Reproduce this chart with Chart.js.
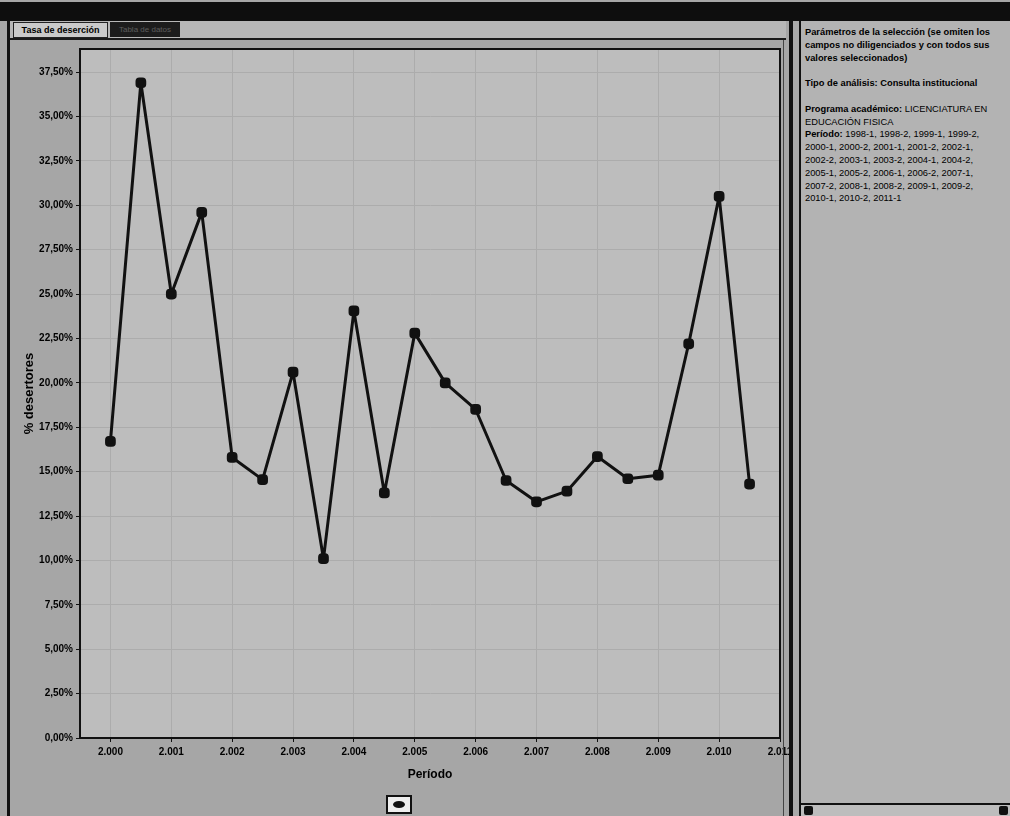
<!DOCTYPE html>
<html lang="es">
<head>
<meta charset="utf-8">
<title>Tasa de deserción</title>
<script src="https://cdn.jsdelivr.net/npm/chart.js@4.4.1/dist/chart.umd.min.js"></script>
<style>
  html, body { margin: 0; padding: 0; }
  body {
    width: 1010px; height: 816px; position: relative; overflow: hidden;
    background: #a6a6a6; font-family: 'Liberation Sans', Arial, sans-serif; color: #000;
  }
  .topbar { position: absolute; left: 0; top: 2px; width: 1010px; height: 19px; background: #0e0e0e; }
  .tabrow { position: absolute; left: 10px; top: 21px; width: 776px; height: 17px; background: #b7b7b7; border-bottom: 2px solid #1a1a1a; }
  .tab1 {
    position: absolute; left: 3px; top: 1px; width: 93px; height: 14px; background: #cacaca;
    border: 1px solid #222; font-size: 9px; font-weight: bold; line-height: 14px; text-align: center;
  }
  .tab2 {
    position: absolute; left: 100px; top: 1px; width: 70px; height: 15px; background: #1c1c1c;
    font-size: 8px; line-height: 15px; color: #5c5c5c; text-align: center;
  }
  .leftline { position: absolute; left: 7px; top: 21px; width: 3px; height: 795px; background: #111; }
  .sep1 { position: absolute; left: 783px; top: 40px; width: 1px; height: 776px; background: #444; }
  .sep2 { position: absolute; left: 789px; top: 21px; width: 4px; height: 795px; background: #111; }
  .splitter { position: absolute; left: 793px; top: 21px; width: 6px; height: 795px; background: #a9a9a9; }
  .chartbox { position: absolute; left: 10px; top: 40px; width: 800px; height: 752px; }
  .rightpanel {
    position: absolute; left: 799px; top: 21px; width: 211px; height: 795px; background: #b3b3b3;
    border-left: 2px solid #111; box-sizing: border-box;
  }
  .info {
    position: absolute; left: 4px; top: 5px; font-size: 9.3px; line-height: 12.8px; white-space: nowrap;
  }
  .info b { font-weight: bold; }
  .scrollbar {
    position: absolute; left: 0; bottom: 0; width: 209px; height: 11px; background: #bdbdbd;
    border-top: 2px solid #111;
  }
  .arrow { position: absolute; top: 1px; width: 9px; height: 9px; background: #111; border-radius: 2px; }
  .eyebtn {
    position: absolute; left: 386px; top: 795px; width: 22px; height: 15px; background: #eee;
    border: 2px solid #111;
  }
  .eyebtn::after {
    content: ''; position: absolute; left: 5px; top: 4px; width: 12px; height: 7px; background: #111; border-radius: 50%;
  }
</style>
</head>
<body>
<div class="topbar"></div>
<div class="tabrow">
  <div class="tab1">Tasa de deserción</div>
  <div class="tab2">Tabla de datos</div>
</div>
<div class="leftline"></div>
<div class="chartbox"><canvas id="chart"></canvas></div>
<div class="sep1"></div>
<div class="sep2"></div>
<div class="splitter"></div>
<div class="rightpanel">
  <div class="info">
    <b>Parámetros de la selección (se omiten los</b><br>
    <b>campos no diligenciados y con todos sus</b><br>
    <b>valores seleccionados)</b><br>
    <br>
    <b>Tipo de análisis: Consulta institucional</b><br>
    <br>
    <b>Programa académico:</b> LICENCIATURA EN<br>
    EDUCACIÓN FISICA<br>
    <b>Período:</b> 1998-1, 1998-2, 1999-1, 1999-2,<br>
    2000-1, 2000-2, 2001-1, 2001-2, 2002-1,<br>
    2002-2, 2003-1, 2003-2, 2004-1, 2004-2,<br>
    2005-1, 2005-2, 2006-1, 2006-2, 2007-1,<br>
    2007-2, 2008-1, 2008-2, 2009-1, 2009-2,<br>
    2010-1, 2010-2, 2011-1
  </div>
  <div class="scrollbar">
    <div class="arrow" style="left:3px"></div>
    <div class="arrow" style="right:2px"></div>
  </div>
</div>
<div class="eyebtn"></div>

<script>
// semester positions on the year axis (first half = .0, second half = .5)
const periodX = [2000, 2000.5, 2001, 2001.5, 2002, 2002.5, 2003, 2003.5, 2004, 2004.5, 2005,
                 2005.5, 2006, 2006.5, 2007, 2007.5, 2008, 2008.5, 2009, 2009.5, 2010, 2010.5];
// % desertores per semester
const desertores = [16.7, 36.9, 25.0, 29.6, 15.8, 14.55, 20.6, 10.1, 24.05, 13.8, 22.8,
                    20.0, 18.5, 14.5, 13.3, 13.9, 15.85, 14.6, 14.8, 22.2, 30.5, 14.3];
const xTicks = [2000, 2001, 2002, 2003, 2004, 2005, 2006, 2007, 2008, 2009, 2010, 2011];
const yTicks = [0, 2.5, 5, 7.5, 10, 12.5, 15, 17.5, 20, 22.5, 25, 27.5, 30, 32.5, 35, 37.5];

const tickFont = { family: "'Liberation Sans', Arial, sans-serif", size: 10, weight: 'bold' };

const plotFrame = {
  id: 'plotFrame',
  beforeDraw(chart) {
    const { ctx, chartArea: a } = chart;
    ctx.save();
    ctx.fillStyle = '#bdbdbd';
    ctx.fillRect(a.left, a.top, a.right - a.left, a.bottom - a.top);
    ctx.restore();
  },
  afterDatasetsDraw(chart) {
    const { ctx, chartArea: a } = chart;
    ctx.save();
    ctx.strokeStyle = '#111';
    ctx.lineWidth = 2;
    ctx.strokeRect(a.left, a.top, a.right - a.left, a.bottom - a.top);
    ctx.restore();
  }
};

new Chart(document.getElementById('chart'), {
  type: 'line',
  data: {
    datasets: [{
      data: periodX.map((x, i) => ({ x, y: desertores[i] })),
      borderColor: '#111',
      backgroundColor: '#111',
      borderWidth: 3,
      borderJoinStyle: 'round',
      pointRadius: 4.5,
      pointStyle: 'rectRounded',
      tension: 0
    }]
  },
  options: {
    responsive: true,
    maintainAspectRatio: false,
    animation: false,
    layout: { autoPadding: false, padding: { left: 0, top: 8, right: 30, bottom: 0 } },
    plugins: { legend: { display: false }, tooltip: { enabled: false } },
    scales: {
      x: {
        type: 'linear',
        min: 1999.5,
        max: 2011,
        afterBuildTicks: s => { s.ticks = xTicks.map(v => ({ value: v })); },
        afterFit: s => { s.height = 54; },
        grid: { color: '#acacac', lineWidth: 1, tickColor: '#111', tickLength: 4 },
        border: { color: '#111', width: 2 },
        ticks: {
          autoSkip: false, maxRotation: 0, padding: 4, color: '#000', font: tickFont,
          callback: v => String(v).replace(/^(\d)(\d{3})$/, '$1.$2')
        },
        title: {
          display: true, text: 'Período', color: '#000',
          font: { family: "'Liberation Sans', Arial, sans-serif", size: 12, weight: 'bold' },
          padding: { top: 0, bottom: 10 }
        }
      },
      y: {
        min: 0,
        max: 38.8,
        afterBuildTicks: s => { s.ticks = yTicks.map(v => ({ value: v })); },
        afterFit: s => { s.width = 70; },
        grid: { color: '#acacac', lineWidth: 1, tickColor: '#111', tickLength: 4 },
        border: { color: '#111', width: 2 },
        ticks: {
          padding: 3, color: '#000', font: tickFont,
          callback: v => v.toFixed(2).replace('.', ',') + '%'
        },
        title: {
          display: true, text: '% desertores', color: '#000',
          font: { family: "'Liberation Sans', Arial, sans-serif", size: 13, weight: 'bold' },
          padding: { top: 12, bottom: 0 }
        }
      }
    }
  },
  plugins: [plotFrame]
});
</script>
</body>
</html>
